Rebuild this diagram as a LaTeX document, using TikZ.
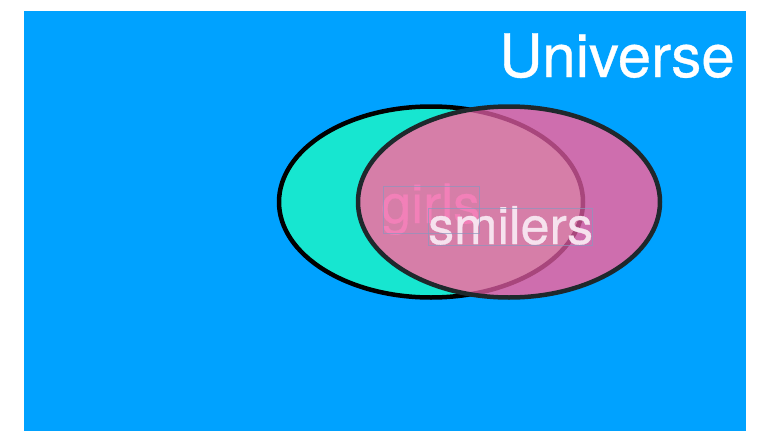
\documentclass[tikz,border=0pt]{standalone}
\usepackage{fontspec}
\setmainfont{TeX Gyre Heros}[FakeBold=0.6]
\usetikzlibrary{shapes.geometric}
\definecolor{univblue}{RGB}{0,162,255}
\definecolor{girlgreen}{RGB}{23,230,208}
\definecolor{smilepink}{RGB}{206,110,174}
\definecolor{overlappink}{RGB}{214,126,168}
\definecolor{throughborder}{RGB}{168,70,124}
\definecolor{smileborder}{RGB}{30,40,44}
\definecolor{girlstext}{RGB}{242,128,184}
\definecolor{smilerstext}{RGB}{246,226,238}
\definecolor{framecol}{RGB}{140,150,190}
\tikzset{
  setshape/.style={ellipse, inner sep=0pt, line width=4.5pt},
  label/.style={anchor=base west, inner sep=0pt},
  textframe/.style={draw=framecol, line width=0.7pt, draw opacity=0.7}
}
\begin{document}
\begin{tikzpicture}[x=1pt,y=-1pt]
\useasboundingbox (0,0) rectangle (758,431);
\fill[univblue] (24,11) rectangle (746,431);
\node[setshape, draw=black, fill=girlgreen, minimum width=304pt, minimum height=191pt] (girlsset) at (431,202) {};
\node[setshape, fill=smilepink, minimum width=302pt, minimum height=191pt] (smilersset) at (509,202) {};
\begin{scope}
  \clip (509,202) ellipse [x radius=151pt, y radius=95.5pt];
  \fill[overlappink] (431,202) ellipse [x radius=152pt, y radius=95.5pt];
  \draw[throughborder, line width=4.5pt] (431,202) ellipse [x radius=152pt, y radius=95.5pt];
\end{scope}
\draw[smileborder, line width=4.5pt] (smilersset.center) ellipse [x radius=151pt, y radius=95.5pt];
\node[label, text=white, font=\fontsize{60}{60}\selectfont] (universe) at (499,77) {Universe};
\node[label, text=girlstext, font=\fontsize{54}{54}\selectfont] (girls) at (381,223) {girls};
\node[label, text=smilerstext, font=\fontsize{52}{52}\selectfont] (smilers) at (428,244) {smilers};
\draw[textframe] (383,186) rectangle (479,233);
\draw[textframe] (428,208) rectangle (592,245);
\end{tikzpicture}
\end{document}
